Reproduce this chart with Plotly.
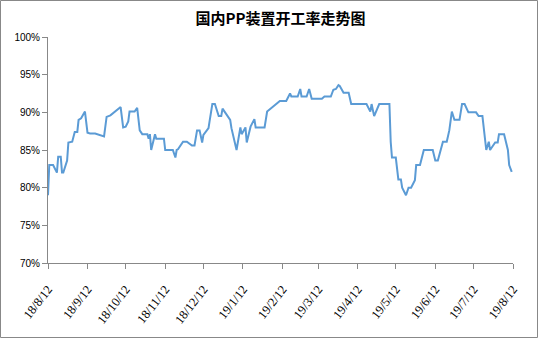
import plotly.graph_objects as go

dates = [
    "2018-08-12", "2018-08-13", "2018-08-16", "2018-08-19", "2018-08-20", "2018-08-22",
    "2018-08-23", "2018-08-24", "2018-08-27", "2018-08-28", "2018-08-31", "2018-09-02",
    "2018-09-04", "2018-09-05", "2018-09-07", "2018-09-10", "2018-09-12", "2018-09-14",
    "2018-09-18", "2018-09-25", "2018-09-27", "2018-09-30", "2018-10-08", "2018-10-10",
    "2018-10-12", "2018-10-14", "2018-10-15", "2018-10-19", "2018-10-21", "2018-10-23",
    "2018-10-25", "2018-10-29", "2018-10-30", "2018-10-31", "2018-11-01", "2018-11-04",
    "2018-11-05", "2018-11-11", "2018-11-12", "2018-11-18", "2018-11-20", "2018-11-21",
    "2018-11-22", "2018-11-26", "2018-11-29", "2018-12-03", "2018-12-05", "2018-12-07",
    "2018-12-09", "2018-12-11", "2018-12-12", "2018-12-16", "2018-12-17", "2018-12-19",
    "2018-12-21", "2018-12-24", "2018-12-26", "2018-12-27", "2019-01-02", "2019-01-03",
    "2019-01-07", "2019-01-10", "2019-01-11", "2019-01-14", "2019-01-15", "2019-01-18",
    "2019-01-21", "2019-01-22", "2019-01-29", "2019-01-31", "2019-02-10", "2019-02-15",
    "2019-02-18", "2019-02-19", "2019-02-24", "2019-02-26", "2019-02-27", "2019-03-03",
    "2019-03-05", "2019-03-07", "2019-03-15", "2019-03-17", "2019-03-22", "2019-03-24",
    "2019-03-26", "2019-03-28", "2019-03-29", "2019-04-01", "2019-04-05", "2019-04-07",
    "2019-04-19", "2019-04-22", "2019-04-23", "2019-04-25", "2019-04-29", "2019-05-07",
    "2019-05-08", "2019-05-09", "2019-05-12", "2019-05-14", "2019-05-16", "2019-05-17",
    "2019-05-20", "2019-05-22", "2019-05-24", "2019-05-27", "2019-05-28", "2019-05-31",
    "2019-06-03", "2019-06-10", "2019-06-12", "2019-06-14", "2019-06-18", "2019-06-21",
    "2019-06-23", "2019-06-25", "2019-06-27", "2019-07-01", "2019-07-03", "2019-07-05",
    "2019-07-08", "2019-07-14", "2019-07-16", "2019-07-19", "2019-07-22", "2019-07-24",
    "2019-07-25", "2019-07-29", "2019-07-31", "2019-08-01", "2019-08-05", "2019-08-08",
    "2019-08-09", "2019-08-11",
]

rates = [
    79.0, 83.0, 83.0, 82.0, 84.1, 84.1,
    82.0, 82.0, 83.6, 86.0, 86.1, 87.4,
    87.4, 89.0, 89.2, 90.1, 87.3, 87.2,
    87.2, 86.8, 89.4, 89.6, 90.7, 88.0,
    88.1, 88.8, 90.1, 90.1, 90.6, 87.6,
    87.1, 87.1, 86.5, 87.1, 85.0, 87.1,
    86.5, 86.5, 85.0, 85.0, 84.0, 85.0,
    85.1, 86.1, 86.1, 85.6, 85.6, 87.6,
    87.6, 86.0, 87.0, 87.9, 89.0, 91.1,
    91.1, 89.5, 89.5, 90.5, 89.0, 87.9,
    85.0, 88.0, 87.1, 88.0, 86.0, 88.1,
    89.1, 88.0, 88.0, 90.1, 91.5, 91.5,
    92.5, 92.1, 92.1, 93.1, 92.1, 92.1,
    93.1, 91.8, 91.8, 92.1, 92.1, 93.0,
    93.1, 93.6, 93.5, 92.6, 92.6, 91.1,
    91.1, 90.1, 91.1, 89.5, 91.1, 91.1,
    86.1, 84.0, 84.0, 81.1, 81.1, 80.0,
    79.0, 80.0, 80.0, 81.0, 83.0, 83.0,
    85.0, 85.0, 83.6, 83.6, 86.1, 86.1,
    87.6, 90.1, 89.0, 89.0, 91.1, 91.1,
    90.0, 90.0, 89.5, 89.5, 85.0, 86.1,
    85.0, 86.0, 86.0, 87.1, 87.1, 85.0,
    83.0, 82.1,
]

tick_dates = [
    "2018-08-12", "2018-09-12", "2018-10-12", "2018-11-12", "2018-12-12",
    "2019-01-12", "2019-02-12", "2019-03-12", "2019-04-12", "2019-05-12",
    "2019-06-12", "2019-07-12", "2019-08-12",
]
tick_labels = [
    "18/8/12", "18/9/12", "18/10/12", "18/11/12", "18/12/12", "19/1/12",
    "19/2/12", "19/3/12", "19/4/12", "19/5/12", "19/6/12", "19/7/12", "19/8/12",
]
y_ticks = [70, 75, 80, 85, 90, 95, 100]
y_labels = ["70%", "75%", "80%", "85%", "90%", "95%", "100%"]

title_text = "国内PP装置开工率走势图"

fig = go.Figure()
fig.add_trace(go.Scatter(
    x=dates, y=rates, mode="lines",
    line=dict(color="#5B9BD5", width=2),
    hoverinfo="x+y",
))

W, H = 538, 338
ml, mr, mt, mb = 48, 25, 37, 75
pw, ph = W - ml - mr, H - mt - mb

fig.update_layout(
    width=W, height=H,
    margin=dict(l=ml, r=mr, t=mt, b=mb),
    paper_bgcolor="white", plot_bgcolor="white",
    showlegend=False,
    title=dict(
        text="<b>" + title_text + "</b>",
        x=0.5, xref="paper", xanchor="center",
        y=1 - 19 / H, yanchor="middle",
        font=dict(family="Noto Sans CJK SC", size=15, color="black"),
    ),
    xaxis=dict(
        type="date",
        range=[tick_dates[0], tick_dates[-1]],
        tickvals=tick_dates, ticktext=tick_labels,
        tickangle=-52,
        ticklabelstandoff=8,
        showgrid=False, zeroline=False,
        showline=True, linecolor="#888888", linewidth=1,
        ticks="outside", ticklen=5, tickcolor="#888888",
        tickfont=dict(family="Liberation Serif", size=12.5, color="black"),
    ),
    yaxis=dict(
        range=[70, 100],
        tickvals=y_ticks, ticktext=y_labels,
        showgrid=False, zeroline=False,
        showline=True, linecolor="#888888", linewidth=1,
        ticks="outside", ticklen=5, tickcolor="#888888",
        tickfont=dict(family="Liberation Sans", size=10, color="black"),
    ),
    shapes=[dict(
        type="rect", xref="paper", yref="paper",
        x0=-(ml - 0.5) / pw, x1=(W - 0.5 - ml) / pw,
        y0=-(mb - 0.5) / ph, y1=1 + (mt - 0.5) / ph,
        line=dict(color="#888888", width=1), fillcolor="rgba(0,0,0,0)",
        layer="below",
    )],
)

fig.write_html("out.html")
